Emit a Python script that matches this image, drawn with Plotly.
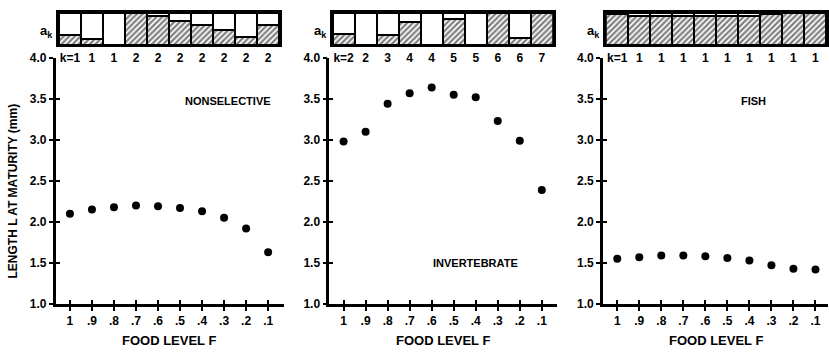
import plotly.graph_objects as go

W, H = 829, 357

# ---------------- data ----------------
F_labels = ["1", ".9", ".8", ".7", ".6", ".5", ".4", ".3", ".2", ".1"]
F_pos = list(range(10))

L_nonselective = [2.10, 2.15, 2.18, 2.20, 2.19, 2.17, 2.13, 2.05, 1.92, 1.63]
L_invertebrate = [2.98, 3.10, 3.44, 3.57, 3.64, 3.55, 3.52, 3.23, 2.99, 2.39]
L_fish = [1.55, 1.57, 1.59, 1.59, 1.58, 1.56, 1.53, 1.47, 1.43, 1.42]

a_nonselective = [0.30, 0.18, 0.0, 1.0, 0.90, 0.76, 0.63, 0.46, 0.23, 0.61]
a_invertebrate = [0.35, 0.0, 0.30, 0.73, 0.0, 0.80, 0.0, 1.0, 0.21, 1.0]
a_fish = [0.96, 0.91, 0.91, 0.91, 0.91, 0.91, 0.91, 0.96, 1.0, 1.0]

k_nonselective = ["k=1", "1", "1", "2", "2", "2", "2", "2", "2", "2"]
k_invertebrate = ["k=2", "2", "3", "4", "4", "5", "5", "6", "6", "7"]
k_fish = ["k=1", "1", "1", "1", "1", "1", "1", "1", "1", "1"]

panel_names = ["NONSELECTIVE", "INVERTEBRATE", "FISH"]
panel_label_pos = [(7.2, 3.47), (6.0, 1.50), (6.2, 3.47)]

y_ticks = [1.0, 1.5, 2.0, 2.5, 3.0, 3.5, 4.0]
y_ticktext = ["1.0", "1.5", "2.0", "2.5", "3.0", "3.5", "4.0"]

L_all = [L_nonselective, L_invertebrate, L_fish]
a_all = [a_nonselective, a_invertebrate, a_fish]
k_all = [k_nonselective, k_invertebrate, k_fish]

# ---------------- layout geometry (pixels) ----------------
tick0_px = [70, 344, 618]
unit = 22.05
x_lo = -0.65
main_top, main_bot = 53, 309
strip_top, strip_bot = 6, 39

FONT = "Liberation Sans"


def px(x):
    return x / W


def py(y):
    return 1 - y / H


fig = go.Figure()
layout = dict(
    width=W, height=H, margin=dict(l=0, r=0, t=0, b=0),
    paper_bgcolor="white", plot_bgcolor="rgba(0,0,0,0)",
    showlegend=False, barmode="stack", bargap=0,
    font=dict(family=FONT, size=12, color="black", weight="bold"),
)
annotations = []

for p in range(3):
    m = p + 1          # main axes
    s = p + 4          # strip axes
    o = p + 7          # overlay tick axes
    t0 = tick0_px[p]
    left = t0 + x_lo * unit
    right = min(t0 + 9.7 * unit, W)
    x_hi = (right - t0) / unit
    mx = f"x{m}" if m > 1 else "x"
    my = f"y{m}" if m > 1 else "y"

    # main scatter
    fig.add_trace(go.Scatter(
        x=F_pos, y=L_all[p], mode="markers",
        marker=dict(color="black", size=8),
        xaxis=mx, yaxis=my))

    axis_common = dict(showgrid=False, zeroline=False)
    layout[f"xaxis{m}"] = dict(
        domain=[px(left), px(right)], range=[x_lo, x_hi], anchor=my,
        tickvals=F_pos, ticktext=F_labels, ticks="outside", ticklen=4,
        tickwidth=2, tickcolor="black", showline=True, linewidth=2.5,
        linecolor="black", tickfont=dict(size=12, weight="bold"),
        **axis_common)
    layout[f"yaxis{m}"] = dict(
        domain=[py(main_bot), py(main_top)], range=[1, 4], anchor=mx,
        tickvals=y_ticks, ticktext=y_ticktext, ticks="outside", ticklen=4,
        tickwidth=2, tickcolor="black", showline=True, linewidth=2.5,
        linecolor="black", tickfont=dict(size=12, weight="bold"),
        **axis_common)

    # overlay axes for crossing ticks (inside half)
    fig.add_trace(go.Scatter(x=[None], y=[None], xaxis=f"x{o}",
                             yaxis=f"y{o}", hoverinfo="skip"))
    layout[f"xaxis{o}"] = dict(
        overlaying=mx, anchor=my, range=[x_lo, x_hi], tickvals=F_pos,
        ticks="inside", ticklen=4, tickwidth=2, tickcolor="black",
        showticklabels=False, showline=False, **axis_common)
    layout[f"yaxis{o}"] = dict(
        overlaying=my, anchor=mx, range=[1, 4], tickvals=y_ticks,
        ticks="inside", ticklen=4, tickwidth=2, tickcolor="black",
        showticklabels=False, showline=False, **axis_common)

    # top strip: fraction a_k (hatched) and remainder (white)
    a = a_all[p]
    rest = [1 - v for v in a]
    fig.add_trace(go.Bar(
        x=F_pos, y=a, width=1, xaxis=f"x{s}", yaxis=f"y{s}",
        marker=dict(color="white",
                    line=dict(color="black", width=2),
                    pattern=dict(shape="/", fgcolor="black", bgcolor="white",
                                 size=4, solidity=0.55))))
    fig.add_trace(go.Bar(
        x=F_pos, y=rest, width=1, xaxis=f"x{s}", yaxis=f"y{s}",
        marker=dict(color="white", line=dict(color="black", width=2))))
    sl = t0 - 0.5 * unit
    sr = t0 + 9.5 * unit
    layout[f"xaxis{s}"] = dict(
        domain=[px(sl), px(sr)], range=[-0.5, 9.5], anchor=f"y{s}",
        tickvals=F_pos, ticktext=k_all[p], ticks="", showline=True,
        mirror=True, linewidth=2.5, linecolor="black",
        tickfont=dict(size=12, weight="bold"), **axis_common)
    layout[f"yaxis{s}"] = dict(
        domain=[py(strip_bot), py(strip_top)], range=[0, 1],
        anchor=f"x{s}", showticklabels=False, ticks="", showline=True,
        mirror=True, linewidth=2.5, linecolor="black", **axis_common)

    # a_k label
    annotations.append(dict(
        x=px(sl - 4), y=py(25), xref="paper", yref="paper",
        text="a<sub>k</sub>", showarrow=False, xanchor="right",
        yanchor="middle", font=dict(size=13, weight="bold")))

    # panel label
    lx, ly = panel_label_pos[p]
    annotations.append(dict(
        x=lx, y=ly, xref=mx, yref=my, text=panel_names[p], showarrow=False,
        xanchor="center", yanchor="middle", font=dict(size=11, weight="bold")))

    # x title
    annotations.append(dict(
        x=4.5, y=py(347), xref=mx, yref="paper", text="FOOD LEVEL F",
        showarrow=False, xanchor="center", yanchor="middle",
        font=dict(size=13, weight="bold")))

# y title
annotations.append(dict(
    x=px(13), y=py(191), xref="paper", yref="paper",
    text="LENGTH L AT MATURITY (mm)", textangle=-90, showarrow=False,
    xanchor="center", yanchor="middle", font=dict(size=12, weight="bold")))

layout["annotations"] = annotations
fig.update_layout(**layout)
fig.write_html("out.html")
